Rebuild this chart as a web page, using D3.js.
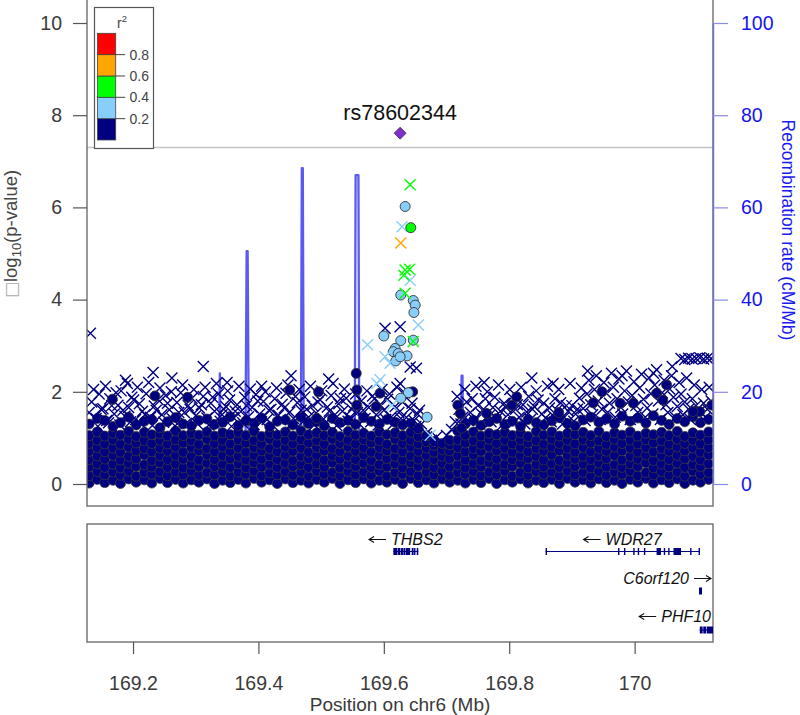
<!DOCTYPE html>
<html><head><meta charset="utf-8">
<script src="https://cdn.jsdelivr.net/npm/d3@7"></script>
<style>body{margin:0;background:#fff}svg{display:block}</style>
</head><body><svg id="c" width="800" height="715"></svg>
<script>
// ---------------- DATA ----------------
const xDomain = [169.1266, 170.1250];
const leftTicks = [0, 2, 4, 6, 8, 10];
const rightTicks = [0, 20, 40, 60, 80, 100];
const xTicks = [169.2, 169.4, 169.6, 169.8, 170.0];
const xTickLabels = ["169.2", "169.4", "169.6", "169.8", "170"];
const legendBreaks = [0.2, 0.4, 0.6, 0.8];
const legendLabels = ["0.2", "0.4", "0.6", "0.8"];
const ldColors = ["#000080", "#87CEFA", "#00FF00", "#FFA500", "#FF0000"];
const sigLine = 7.3;

const leadName = "rs78602344";
const leadPos = 169.626;
const leadLogP = 7.61;

// dense band of weakly associated SNPs (navy circles), by column
const bandPos = [169.130,169.143,169.155,169.168,169.180,169.193,169.205,169.218,169.230,169.243,
169.255,169.268,169.280,169.293,169.305,169.318,169.330,169.343,169.355,169.368,
169.380,169.393,169.405,169.418,169.430,169.443,169.455,169.468,169.480,169.493,
169.505,169.518,169.530,169.543,169.555,169.568,169.580,169.593,169.605,169.618,
169.630,169.643,169.655,169.668,169.680,169.693,169.705,169.718,169.730,169.743,
169.755,169.768,169.780,169.793,169.805,169.818,169.830,169.843,169.855,169.868,
169.880,169.893,169.905,169.918,169.930,169.943,169.955,169.968,169.980,169.993,
170.005,170.018,170.030,170.043,170.055,170.068,170.080,170.093,170.105,170.118];
const bandLogP = [
[0.02,0.18,0.37,0.53,0.71,0.88,1.05,1.30],[0.10,0.27,0.44,0.61,0.79,0.95,1.13,1.42],
[0.03,0.20,0.36,0.54,0.70,0.87,1.04,1.38],[0.08,0.26,0.43,0.62,0.78,0.96,1.10,1.25],
[0.01,0.19,0.35,0.52,0.69,0.86,1.06,1.33],[0.11,0.28,0.45,0.60,0.80,0.97,1.14,1.45],
[0.04,0.17,0.38,0.55,0.72,0.89,1.03,1.28],[0.09,0.25,0.42,0.63,0.77,0.94,1.12,1.36],
[0.02,0.21,0.37,0.51,0.70,0.88,1.07,1.40],[0.12,0.27,0.46,0.61,0.78,0.95,1.09,1.22],
[0.03,0.18,0.36,0.53,0.71,0.87,1.04,1.35],[0.10,0.26,0.44,0.62,0.80,0.96,1.15,1.44],
[0.02,0.20,0.35,0.54,0.69,0.89,1.05,1.30],[0.09,0.28,0.43,0.60,0.79,0.94,1.10,1.26],
[0.04,0.19,0.37,0.52,0.72,0.86,1.06,1.38],[0.11,0.25,0.45,0.63,0.77,0.97,1.13,1.41],
[0.01,0.20,0.38,0.53,0.70,0.88,1.04,1.29],[0.08,0.27,0.42,0.61,0.80,0.95,1.11,1.34],
[0.03,0.17,0.36,0.55,0.71,0.87,1.07,1.46],[0.10,0.26,0.44,0.60,0.78,0.96,1.12,1.27],
[0.02,0.21,0.35,0.52,0.69,0.89,1.05,1.37],[0.12,0.28,0.46,0.62,0.79,0.94,1.14,1.32],
[0.04,0.18,0.37,0.54,0.72,0.86,1.03,1.43],[0.09,0.25,0.43,0.61,0.77,0.97,1.10,1.24],
[0.01,0.20,0.36,0.53,0.70,0.88,1.06,1.36],[0.11,0.27,0.45,0.63,0.80,0.95,1.13,1.39],
[0.03,0.19,0.38,0.51,0.71,0.87,1.04,1.28],[0.08,0.26,0.42,0.60,0.78,0.96,1.15,1.45],
[0.02,0.17,0.36,0.55,0.69,0.89,1.07,1.31],[0.10,0.28,0.44,0.62,0.79,0.94,1.11,1.35],
[0.04,0.21,0.37,0.52,0.72,0.86,1.05,1.26],[0.12,0.25,0.46,0.61,0.77,0.97,1.12,1.42],
[0.01,0.18,0.35,0.54,0.70,0.88,1.03,1.33],[0.09,0.27,0.43,0.60,0.80,0.95,1.14,1.38],
[0.03,0.20,0.38,0.53,0.71,0.87,1.06,1.29],[0.11,0.26,0.45,0.63,0.78,0.96,1.10,1.44],
[0.02,0.19,0.36,0.51,0.69,0.89,1.04,1.36],[0.08,0.28,0.42,0.62,0.79,0.94,1.13,1.30],
[0.04,0.17,0.37,0.55,0.72,0.86,1.07,1.40],[0.10,0.25,0.44,0.60,0.77,0.97,1.11,1.34],
[0.01,0.21,0.35,0.52,0.70,0.88,1.05,1.28],[0.12,0.27,0.46,0.61,0.80,0.95,1.12,1.32],
[0.03,0.18,0.38,0.54,0.71,0.87,1.03,1.20],[0.09,0.26,0.43,0.62,0.78,0.92,1.05],
[0.02,0.20,0.36,0.53,0.69,0.84,0.92],[0.11,0.28,0.45,0.60,0.74,0.88],
[0.04,0.19,0.37,0.55,0.72,0.85,0.95],[0.08,0.25,0.42,0.61,0.79,0.96,1.15],
[0.02,0.21,0.35,0.52,0.70,0.89,1.06,1.30],[0.10,0.27,0.44,0.63,0.77,0.94,1.13,1.38],
[0.03,0.18,0.37,0.51,0.71,0.86,1.04,1.27],[0.12,0.26,0.46,0.60,0.80,0.97,1.10,1.35],
[0.01,0.20,0.36,0.54,0.72,0.88,1.07,1.42],[0.09,0.28,0.43,0.62,0.78,0.95,1.12,1.29],
[0.04,0.17,0.38,0.53,0.69,0.87,1.05,1.36],[0.11,0.25,0.45,0.61,0.79,0.96,1.11,1.25],
[0.02,0.19,0.35,0.55,0.70,0.89,1.03,1.40],[0.08,0.27,0.42,0.60,0.77,0.94,1.14,1.33],
[0.03,0.21,0.37,0.52,0.71,0.86,1.06,1.28],[0.10,0.26,0.44,0.63,0.80,0.97,1.13,1.37],
[0.01,0.18,0.36,0.51,0.72,0.88,1.04,1.44],[0.12,0.28,0.46,0.62,0.78,0.95,1.10,1.31],
[0.04,0.20,0.38,0.54,0.69,0.87,1.07,1.26],[0.09,0.25,0.43,0.60,0.79,0.96,1.12,1.39],
[0.02,0.17,0.35,0.53,0.70,0.89,1.05,1.45],[0.11,0.27,0.45,0.61,0.77,0.94,1.14,1.34],
[0.03,0.19,0.37,0.55,0.71,0.86,1.03,1.41],[0.08,0.26,0.42,0.62,0.80,0.97,1.11,1.30],
[0.01,0.21,0.36,0.52,0.72,0.88,1.06,1.47],[0.10,0.28,0.44,0.60,0.78,0.95,1.13,1.36],
[0.04,0.18,0.38,0.54,0.69,0.87,1.04,1.43],[0.12,0.25,0.46,0.63,0.79,0.96,1.10,1.32],
[0.02,0.20,0.35,0.51,0.70,0.89,1.07,1.48],[0.09,0.27,0.43,0.61,0.77,0.94,1.12,1.38],
[0.03,0.19,0.37,0.53,0.71,0.86,1.05,1.29],[0.11,0.26,0.45,0.62,0.80,0.97,1.14,1.42],
[0.01,0.17,0.36,0.55,0.72,0.88,1.03,1.35],[0.08,0.28,0.42,0.60,0.78,0.95,1.11,1.46],
[0.04,0.21,0.38,0.52,0.69,0.87,1.06,1.33],[0.10,0.25,0.44,0.63,0.79,0.96,1.13,1.40]];

// navy crosses (imputed SNPs, r2 < 0.2)
const navyCrosses = [
[169.130,1.55],[169.134,1.78],[169.141,1.42],[169.146,1.95],[169.152,1.63],[169.158,1.38],[169.163,1.85],[169.170,1.52],
[169.176,1.71],[169.181,2.02],[169.187,1.47],[169.193,1.66],[169.198,1.88],[169.204,1.40],[169.210,1.74],[169.215,1.58],
[169.221,1.96],[169.228,1.45],[169.234,1.69],[169.240,1.83],[169.246,1.50],[169.252,1.92],[169.258,1.61],[169.263,1.41],
[169.270,1.77],[169.276,1.98],[169.282,1.55],[169.288,1.70],[169.294,1.86],[169.300,1.48],[169.306,1.65],[169.312,1.90],
[169.318,1.43],[169.324,1.75],[169.330,1.58],[169.336,1.95],[169.342,1.50],[169.348,1.68],[169.354,1.82],[169.360,1.44],
[169.366,1.72],[169.372,1.57],[169.378,1.88],[169.384,1.46],[169.390,1.66],[169.396,1.94],[169.402,1.52],[169.408,1.79],
[169.414,1.40],[169.420,1.62],[169.426,1.85],[169.432,1.49],[169.438,1.73],[169.444,1.97],[169.450,1.56],[169.456,1.42],
[169.462,1.76],[169.468,1.60],[169.474,1.89],[169.480,1.45],[169.486,1.70],[169.492,1.54],[169.498,1.83],[169.504,1.41],
[169.510,1.67],[169.516,1.92],[169.522,1.50],[169.528,1.74],[169.534,1.58],[169.540,1.86],[169.546,1.44],[169.552,1.69],
[169.558,1.55],[169.564,1.80],[169.570,1.42],[169.576,1.66],[169.582,1.91],[169.588,1.50],[169.594,1.72],[169.600,1.60],
[169.606,1.84],[169.612,1.46],[169.618,1.68],[169.624,1.55],[169.630,1.78],[169.636,1.44],[169.642,1.64],[169.648,1.38],
[169.654,1.52],[169.660,1.30],[169.668,1.10],[169.676,0.95],[169.684,1.02],[169.692,0.92],[169.700,1.05],[169.708,1.18],
[169.714,1.35],[169.720,1.62],[169.726,1.45],[169.732,1.78],[169.738,1.55],[169.744,1.40],[169.750,1.70],[169.756,1.52],
[169.762,1.85],[169.768,1.48],[169.774,1.66],[169.780,1.42],[169.786,1.58],[169.792,1.75],[169.798,1.50],[169.804,1.88],
[169.810,1.62],[169.816,1.45],[169.822,1.72],[169.828,1.56],[169.834,1.40],[169.840,1.68],[169.846,1.82],[169.852,1.52],
[169.858,1.43],[169.864,1.65],[169.870,1.48],[169.876,1.60],[169.882,1.76],[169.888,1.45],[169.894,1.58],[169.900,1.70],
[169.906,1.52],[169.912,1.86],[169.918,1.64],[169.924,1.95],[169.930,1.72],[169.936,2.05],[169.942,1.80],[169.948,1.62],
[169.954,1.98],[169.960,1.75],[169.966,2.10],[169.972,1.85],[169.978,1.66],[169.984,2.02],[169.990,1.78],[169.996,1.92],
[170.002,1.70],[170.008,2.08],[170.014,1.84],[170.020,1.65],[170.026,1.96],[170.032,2.15],[170.038,1.80],[170.044,1.98],
[170.050,1.72],[170.056,2.06],[170.062,1.88],[170.068,1.68],[170.074,1.95],[170.080,1.78],[170.086,1.62],[170.092,1.85],
[170.098,1.70],[170.104,1.58],[170.110,1.75],[170.116,1.62],[170.122,1.80],
[169.137,2.05],[169.144,1.25],[169.149,1.62],[169.156,2.12],[169.161,1.33],[169.166,1.70],[169.173,1.98],[169.179,1.28],
[169.184,1.60],[169.191,2.18],[169.196,1.35],[169.201,1.82],[169.207,2.10],[169.213,1.30],[169.219,1.50],[169.225,2.20],
[169.231,1.27],[169.237,1.60],[169.243,2.08],[169.249,1.34],[169.255,1.75],[169.261,2.00],[169.267,1.26],[169.273,1.55],
[169.279,2.15],[169.285,1.32],[169.291,1.62],[169.297,2.05],[169.303,1.30],[169.309,1.72],[169.315,2.10],[169.321,1.28],
[169.327,1.88],[169.333,2.18],[169.339,1.36],[169.345,1.62],[169.351,2.02],[169.357,1.25],[169.363,1.58],[169.369,2.12],
[169.375,1.33],[169.381,1.70],[169.387,2.06],[169.393,1.29],[169.399,1.80],[169.405,1.35],[169.411,2.00],[169.417,1.60],
[169.423,1.27],[169.429,2.08],[169.435,1.40],[169.441,1.65],[169.447,2.15],[169.453,1.30],[169.459,1.90],[169.465,2.05],
[169.471,1.35],[169.477,1.62],[169.483,2.12],[169.489,1.28],[169.495,1.78],[169.501,2.02],[169.507,1.33],[169.513,1.58],
[169.519,2.18],[169.525,1.27],[169.531,1.85],[169.537,2.06],[169.543,1.36],[169.549,1.62],[169.555,1.95],[169.561,1.30],
[169.567,1.60],[169.573,2.02],[169.579,1.35],[169.585,1.85],[169.591,1.28],[169.597,2.05],[169.603,1.40],[169.609,1.95],
[169.615,1.30],[169.621,2.10],[169.627,1.42],[169.633,1.98],[169.639,1.30],[169.645,1.75],[169.651,1.25],[169.657,1.60],
[169.717,1.90],[169.723,1.30],[169.729,2.05],[169.735,1.38],[169.741,1.85],[169.747,2.12],[169.753,1.30],[169.759,1.62],
[169.765,2.00],[169.771,1.35],[169.777,1.88],[169.783,2.15],[169.789,1.28],[169.795,1.66],[169.801,2.05],[169.807,1.33],
[169.813,1.72],[169.819,2.10],[169.825,1.30],[169.831,1.90],[169.837,1.62],[169.843,2.02],[169.849,1.28],[169.855,1.75],
[169.861,2.12],[169.867,1.35],[169.873,1.85],[169.879,2.05],[169.885,1.30],[169.891,1.70],[169.897,2.18],[169.903,1.36],
[169.909,1.62],[169.915,2.08],[169.921,1.38],[169.927,2.25],[169.933,1.50],[169.939,2.35],[169.945,1.40],[169.951,2.20],
[169.957,1.55],[169.963,2.40],[169.969,1.45],[169.975,2.28],[169.981,1.52],[169.987,2.45],[169.993,1.40],[169.999,2.22],
[170.005,1.55],[170.011,2.38],[170.017,1.45],[170.023,2.30],[170.029,1.52],[170.035,2.48],[170.041,1.40],[170.047,2.25],
[170.053,1.55],[170.059,2.35],[170.065,1.45],[170.071,2.20],[170.077,1.50],[170.083,2.30],[170.089,1.40],[170.095,2.15],
[170.101,1.52],[170.107,2.05],[170.113,1.45],[170.119,2.10],
[169.132,3.27],[169.188,2.25],[169.232,2.42],[169.262,2.30],[169.312,2.55],[169.350,2.20],[169.405,2.12],[169.452,2.35],
[169.512,2.28],[169.602,3.38],[169.626,3.41],[169.642,2.54],[169.652,2.51],[169.626,2.18],[169.760,2.20],[169.836,2.30],
[169.870,2.18],[169.925,2.45],[169.980,2.35],[170.030,2.40],[170.060,2.55],
[170.074,2.72],[170.080,2.70],[170.086,2.73],[170.092,2.71],[170.098,2.72],[170.104,2.74],[170.110,2.71],[170.116,2.73],[170.122,2.72]];

// navy circles (typed SNPs, r2 < 0.2) standing above the band
const navyCircles = [
[169.167,1.84],[169.235,1.91],[169.287,1.88],[169.450,2.04],[169.496,2.00],[169.557,2.04],[169.594,1.97],
[169.557,1.71],[169.588,1.68],[169.493,1.42],[169.556,2.40],[169.646,2.00],[169.718,1.71],[169.722,1.53],
[169.724,1.21],[169.764,1.53],[169.804,1.71],[169.812,1.89],[169.879,1.55],[169.934,1.76],[169.948,2.00],
[169.977,1.75],[169.998,1.75],[170.035,1.97],[170.051,2.15],[170.045,1.82],[170.104,1.57],[170.123,1.71],[170.093,1.57]];

// SNPs in LD with the lead SNP: [position Mb, -log10 p, r2, marker]
const ldSNPs = [
[169.642,6.49,0.5,"x"],[169.634,6.02,0.3,"o"],[169.629,5.58,0.3,"x"],[169.643,5.56,0.5,"o"],
[169.627,5.23,0.7,"x"],[169.634,4.64,0.5,"x"],[169.641,4.66,0.5,"x"],[169.632,4.53,0.5,"x"],
[169.642,4.42,0.3,"x"],[169.627,4.10,0.3,"o"],[169.634,4.14,0.5,"x"],[169.647,3.98,0.3,"o"],
[169.650,3.88,0.3,"o"],[169.648,3.72,0.3,"o"],[169.655,3.45,0.3,"x"],[169.600,3.21,0.3,"o"],
[169.627,3.11,0.3,"o"],[169.647,3.12,0.3,"o"],[169.647,3.09,0.5,"x"],[169.574,3.02,0.3,"x"],
[169.618,2.94,0.3,"o"],[169.615,2.87,0.3,"o"],[169.623,2.83,0.3,"o"],[169.637,2.78,0.3,"o"],
[169.619,2.67,0.3,"o"],[169.626,2.76,0.3,"o"],[169.602,2.76,0.3,"x"],[169.610,2.62,0.3,"x"],
[169.594,2.26,0.3,"x"],[169.589,2.18,0.3,"x"],[169.639,1.98,0.3,"o"],[169.627,1.86,0.3,"o"],
[169.613,1.71,0.3,"x"],[169.669,1.45,0.3,"o"],[169.674,1.06,0.3,"x"]];

// recombination rate (cM/Mb)
const recombPos = [169.127,169.150,169.175,169.200,169.230,169.260,169.290,169.320,169.3365,169.3385,169.3405,
169.360,169.379,169.3812,169.3828,169.385,169.410,169.440,169.4675,169.4692,169.4708,169.4725,169.500,169.530,
169.5535,169.5550,169.5595,169.5610,169.590,169.620,169.650,169.690,169.7225,169.7240,169.7255,169.7270,
169.760,169.800,169.850,169.900,169.950,170.000,170.050,170.100,170.125];
const recombRate = [1.2,0.8,1.5,0.6,1.1,0.9,1.8,0.7,1.0,24.0,1.2,
0.9,1.5,50.5,50.5,2.0,1.0,0.8,1.6,68.5,68.5,1.8,0.9,1.2,
2.0,67.0,67.0,2.5,1.0,0.6,0.8,1.1,1.5,23.5,23.5,2.0,
1.0,0.7,1.2,0.9,1.5,0.8,1.1,0.7,0.9];

// genes
const geneNames = ["THBS2", "WDR27", "C6orf120", "PHF10"];
const geneStart = [169.6152, 169.8580, 170.1027, 170.1035];
const geneEnd = [169.6550, 170.1035, 170.1075, 170.1250];
const geneStrand = ["-", "-", "+", "-"];
const geneRow = [0, 0, 1, 2];
const geneExons = [
  [[169.6152,169.6210],[169.6218,169.6262],[169.6270,169.6305],[169.6312,169.6345],[169.6352,169.6420],[169.6445,169.6475],[169.6482,169.6500],[169.6525,169.6550]],
  [[169.8580,169.8592],[169.9735,169.9748],[169.9830,169.9842],[169.9978,169.9990],[170.0050,170.0062],[170.0148,170.0160],[170.0350,170.0420],[170.0465,170.0478],[170.0535,170.0548],[170.0620,170.0740],[170.0885,170.0897],[170.1020,170.1035]],
  [[170.1027,170.1075]],
  [[170.1040,170.1085],[170.1095,170.1140],[170.1150,170.1250]]
];

// ---------------- DRAWING ----------------
const FONT = '"Liberation Sans", Arial, Helvetica, sans-serif';
const svg = d3.select("#c").attr("font-family", FONT);
const P = {l: 87, r: 713, t: -2, b: 506};
const G = {t: 524, b: 642};

const x = d3.scaleLinear().domain(xDomain).range([P.l, P.r]);
const y = d3.scaleLinear().domain([0, 10]).range([484, 23]);
const yR = d3.scaleLinear().domain([0, 100]).range([484, 23]);
const ldColor = d3.scaleThreshold().domain(legendBreaks).range(ldColors);

const defs = svg.append("defs");
defs.append("clipPath").attr("id", "clipMain").append("rect")
  .attr("x", P.l).attr("y", P.t).attr("width", P.r - P.l).attr("height", P.b - P.t);
defs.append("clipPath").attr("id", "clipGene").append("rect")
  .attr("x", P.l).attr("y", G.t).attr("width", P.r - P.l).attr("height", G.b - G.t);

const main = svg.append("g").attr("clip-path", "url(#clipMain)");

// recombination line
const recomb = recombPos.map((p, i) => [p, recombRate[i]]);
main.append("path").datum(recomb)
  .attr("d", d3.line().x(d => x(d[0])).y(d => yR(d[1])))
  .attr("fill", "none").attr("stroke", "#5a5af0").attr("stroke-width", 2.3)
  .attr("stroke-linejoin", "round");

// genome-wide significance line
main.append("line").attr("x1", P.l).attr("x2", P.r)
  .attr("y1", y(sigLine)).attr("y2", y(sigLine))
  .attr("stroke", "#c4c4c4").attr("stroke-width", 1.6);

const R = 5;
const S = 5.5;
const crossPath = `M${-S},${-S}L${S},${S}M${-S},${S}L${S},${-S}`;

// band circles
const band = [];
bandPos.forEach((p, i) => bandLogP[i].forEach(v => band.push([p, v])));
main.append("g").selectAll("circle").data(band).join("circle")
  .attr("cx", d => x(d[0])).attr("cy", d => y(d[1])).attr("r", R)
  .attr("fill", ldColors[0]).attr("stroke", "#3a3a3a").attr("stroke-width", 0.8);

// navy crosses
main.append("g").selectAll("path").data(navyCrosses).join("path")
  .attr("transform", d => `translate(${x(d[0])},${y(d[1])})`)
  .attr("d", crossPath).attr("stroke", ldColors[0]).attr("stroke-width", 1.4).attr("fill", "none");

// navy circles
main.append("g").selectAll("circle").data(navyCircles).join("circle")
  .attr("cx", d => x(d[0])).attr("cy", d => y(d[1])).attr("r", R)
  .attr("fill", ldColors[0]).attr("stroke", "#333").attr("stroke-width", 0.9);

// LD SNPs, low r2 first
const ld = ldSNPs.slice().sort((a, b) => a[2] - b[2]);
const ldG = main.append("g");
ld.forEach(d => {
  if (d[3] === "o") {
    ldG.append("circle").attr("cx", x(d[0])).attr("cy", y(d[1])).attr("r", R)
      .attr("fill", ldColor(d[2])).attr("stroke", "#333").attr("stroke-width", 0.9);
  } else {
    ldG.append("path").attr("transform", `translate(${x(d[0])},${y(d[1])})`)
      .attr("d", crossPath).attr("stroke", ldColor(d[2])).attr("stroke-width", 1.4).attr("fill", "none");
  }
});

// lead SNP
main.append("path").attr("transform", `translate(${x(leadPos)},${y(leadLogP)})`)
  .attr("d", "M0,-6L6,0L0,6L-6,0Z").attr("fill", "#7D2FC8").attr("stroke", "#4a2a6a").attr("stroke-width", 0.8);
svg.append("text").attr("x", x(leadPos)).attr("y", 120).attr("text-anchor", "middle")
  .attr("font-size", 21.5).attr("fill", "#111").text(leadName);

// frame
svg.append("rect").attr("x", P.l).attr("y", P.t).attr("width", P.r - P.l).attr("height", P.b - P.t)
  .attr("fill", "none").attr("stroke", "#6e6e6e").attr("stroke-width", 1.4);

// left axis
const yAxis = svg.append("g").attr("transform", `translate(${P.l},0)`)
  .call(d3.axisLeft(y).tickValues(leftTicks).tickSize(14).tickSizeOuter(0).tickPadding(11).tickFormat(d3.format("d")));
yAxis.select(".domain").remove();
yAxis.selectAll("line").attr("stroke", "#555").attr("stroke-width", 1.2);
yAxis.selectAll("text").attr("font-size", 19.5).attr("fill", "#3a3a3a").attr("font-family", FONT);

// right axis
const yAxisR = svg.append("g").attr("transform", `translate(${P.r},0)`)
  .call(d3.axisRight(yR).tickValues(rightTicks).tickSize(15).tickSizeOuter(0).tickPadding(13).tickFormat(d3.format("d")));
yAxisR.select(".domain").attr("stroke", "#6f6fd0").attr("stroke-width", 1.4);
yAxisR.selectAll("line").attr("stroke", "#8a8aee").attr("stroke-width", 1.2);
yAxisR.selectAll("text").attr("font-size", 19.5).attr("fill", "#1515f0").attr("font-family", FONT);

// axis titles
const yt = svg.append("text").attr("transform", "translate(17,234) rotate(-90)")
  .attr("text-anchor", "middle").attr("font-size", 18.5).attr("fill", "#444");
yt.append("tspan").attr("fill", "#aaa").attr("font-family", "DejaVu Sans").attr("font-size", 17).text("\u25A1");
yt.append("tspan").text("log");
yt.append("tspan").attr("font-size", 13).attr("dy", 4).text("10");
yt.append("tspan").attr("dy", -4).text("(p-value)");

svg.append("text").attr("transform", "translate(782,230) rotate(90)")
  .attr("text-anchor", "middle").attr("font-size", 17.5).attr("fill", "#1a1af2")
  .text("Recombination rate (cM/Mb)");

// legend
const L = {x: 94.5, y: 7.5, w: 59, h: 141, bx: 97.5, bw: 18.2, top: 33.3, bot: 140};
const lg = svg.append("g");
lg.append("rect").attr("x", L.x).attr("y", L.y).attr("width", L.w).attr("height", L.h)
  .attr("fill", "#fff").attr("stroke", "#555").attr("stroke-width", 1.2);
const ly = d3.scaleLinear().domain([0, 1]).range([L.bot, L.top]);
const lvals = [0, 0.2, 0.4, 0.6, 0.8];
lg.selectAll("rect.c").data(lvals).join("rect").attr("class", "c")
  .attr("x", L.bx).attr("width", L.bw)
  .attr("y", d => ly(d + 0.2)).attr("height", d => ly(d) - ly(d + 0.2))
  .attr("fill", d => ldColor(d + 0.01)).attr("stroke", "#444").attr("stroke-width", 0.8);
lg.selectAll("line.t").data(legendBreaks).join("line").attr("class", "t")
  .attr("x1", L.bx + L.bw).attr("x2", L.bx + L.bw + 9.5)
  .attr("y1", d => ly(d)).attr("y2", d => ly(d)).attr("stroke", "#444").attr("stroke-width", 1);
lg.selectAll("text.l").data(legendBreaks).join("text").attr("class", "l")
  .attr("x", 129.5).attr("y", d => ly(d)).attr("dy", "0.36em")
  .attr("font-size", 14).attr("fill", "#444").text((d, i) => legendLabels[i]);
const rt = lg.append("text").attr("x", 122).attr("y", 28).attr("text-anchor", "middle")
  .attr("font-size", 14).attr("fill", "#444");
rt.append("tspan").text("r");
rt.append("tspan").attr("font-size", 9.5).attr("dy", -6).text("2");

// gene panel
svg.append("rect").attr("x", P.l).attr("y", G.t).attr("width", P.r - P.l).attr("height", G.b - G.t)
  .attr("fill", "none").attr("stroke", "#6e6e6e").attr("stroke-width", 1.4);
const gg = svg.append("g").attr("clip-path", "url(#clipGene)");
const rowY = [551.5, 591, 630];
const rowText = [545, 584, 622];
const geneCol = "#000080";
geneNames.forEach((name, i) => {
  const gy = rowY[geneRow[i]];
  gg.append("line").attr("x1", x(geneStart[i])).attr("x2", x(geneEnd[i]))
    .attr("y1", gy).attr("y2", gy).attr("stroke", geneCol).attr("stroke-width", 1.1);
  geneExons[i].forEach(e => {
    const w = Math.max(1.4, x(e[1]) - x(e[0]));
    gg.append("rect").attr("x", x(e[0])).attr("y", gy - 3.5).attr("width", w).attr("height", 7)
      .attr("fill", geneCol);
  });
});
// gene labels with strand arrows
const arrowLen = 17, gap = 5;
geneNames.forEach((name, i) => {
  const ty = rowText[geneRow[i]];
  const t = svg.append("text").attr("y", ty).attr("font-size", 16).attr("font-style", "italic")
    .attr("fill", "#111").text(name);
  const tw = t.node().getComputedTextLength();
  const total = tw + gap + arrowLen;
  let cx = (x(geneStart[i]) + x(geneEnd[i])) / 2;
  let left = cx - total / 2;
  if (left + total > P.r - 2) left = P.r - 2 - total;
  const ay = ty - 5.5;
  let ax0, ax1;
  if (geneStrand[i] === "-") {
    ax0 = left; ax1 = left + arrowLen;
    t.attr("x", left + arrowLen + gap);
    svg.append("path").attr("d", `M${ax1},${ay}L${ax0},${ay}M${ax0 + 5},${ay - 3}L${ax0},${ay}L${ax0 + 5},${ay + 3}`)
      .attr("stroke", "#111").attr("stroke-width", 1.1).attr("fill", "none");
  } else {
    t.attr("x", left);
    ax0 = left + tw + gap; ax1 = ax0 + arrowLen;
    svg.append("path").attr("d", `M${ax0},${ay}L${ax1},${ay}M${ax1 - 5},${ay - 3}L${ax1},${ay}L${ax1 - 5},${ay + 3}`)
      .attr("stroke", "#111").attr("stroke-width", 1.1).attr("fill", "none");
  }
});

// x axis
const xAxis = svg.append("g").attr("transform", `translate(0,${G.b})`)
  .call(d3.axisBottom(x).tickValues(xTicks).tickSize(12).tickSizeOuter(0).tickPadding(22)
    .tickFormat((d, i) => xTickLabels[i]));
xAxis.select(".domain").remove();
xAxis.selectAll("line").attr("stroke", "#555").attr("stroke-width", 1.2);
xAxis.selectAll("text").attr("font-size", 19.5).attr("fill", "#3a3a3a").attr("font-family", FONT);

svg.append("text").attr("x", (P.l + P.r) / 2).attr("y", 711).attr("text-anchor", "middle")
  .attr("font-size", 19).attr("fill", "#3a3a3a").text("Position on chr6 (Mb)");
</script></body></html>
